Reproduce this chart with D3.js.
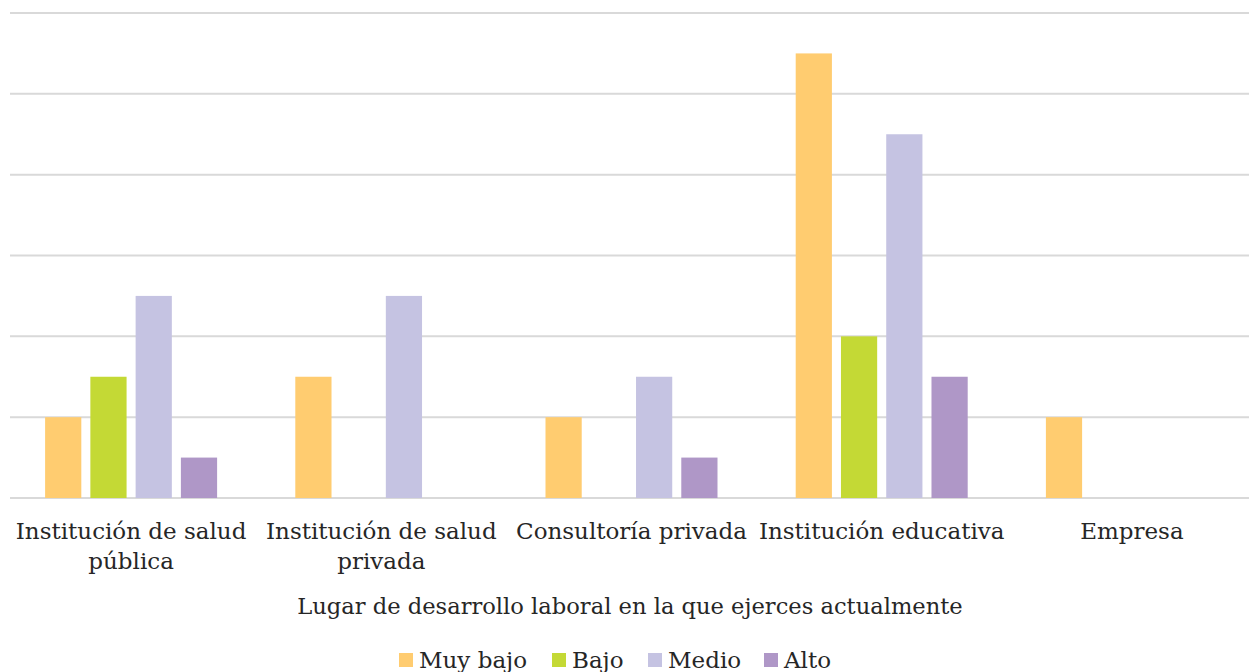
<!DOCTYPE html>
<html><head><meta charset="utf-8">
<script src="https://cdn.jsdelivr.net/npm/d3@7"></script>
<style>body{margin:0;background:#fff}svg{display:block}</style>
</head><body>
<script>
const categories = [["Institución de salud","pública"],["Institución de salud","privada"],["Consultoría privada"],["Institución educativa"],["Empresa"]];
const seriesNames = ["Muy bajo","Bajo","Medio","Alto"];
const muyBajo = [2,3,2,11,2];
const bajo = [3,0,0,4,0];
const medio = [5,5,3,9,0];
const alto = [1,0,1,3,0];
const yTicks = [0,2,4,6,8,10,12];
const axisTitle = "Lugar de desarrollo laboral en la que ejerces actualmente";
const colors = ["#FFCC70","#C4D935","#C5C3E2","#AF97C7"];
const series = [muyBajo,bajo,medio,alto];

const W=1249,H=672;
const font = "'DejaVu Serif', serif";
const svg = d3.select("body").append("svg").attr("width",W).attr("height",H);
const x0 = d3.scaleBand().domain(d3.range(categories.length)).range([6,1257]).paddingInner(0).paddingOuter(0);
const y = d3.scaleLinear().domain([0,12]).range([498,13]);
const groupW = 172;
const x1 = d3.scaleBand().domain(d3.range(4)).range([0,groupW]).paddingInner(0.2).paddingOuter(0);

svg.append("g").selectAll("line").data(yTicks).join("line")
  .attr("x1",10).attr("x2",W).attr("y1",d=>y(d)).attr("y2",d=>y(d))
  .attr("stroke","#d9d9d9").attr("stroke-width",2);

series.forEach((vals,si)=>{
  svg.append("g").selectAll("rect").data(vals.map((v,i)=>({v,i}))).join("rect")
    .filter(d=>d.v>0)
    .attr("x",d=>x0(d.i)+x0.bandwidth()/2-groupW/2+x1(si))
    .attr("width",x1.bandwidth())
    .attr("y",d=>y(d.v)).attr("height",d=>y(0)-y(d.v))
    .attr("fill",colors[si]);
});

const lab = svg.append("g").attr("font-family",font).attr("font-size",23).attr("fill","#262626").attr("text-anchor","middle");
categories.forEach((lines,i)=>{
  const t = lab.append("text").attr("x",x0(i)+x0.bandwidth()/2).attr("y",539);
  lines.forEach((l,j)=>t.append("tspan").attr("x",x0(i)+x0.bandwidth()/2).attr("dy",j?30:0).text(l));
});
svg.append("text").attr("x",630).attr("y",614).attr("text-anchor","middle").attr("font-family",font).attr("font-size",22.6).attr("fill","#262626").text(axisTitle);

const legX=[399,552,648,764];
const leg = svg.append("g").attr("font-family",font).attr("font-size",23).attr("fill","#262626");
seriesNames.forEach((n,i)=>{
  leg.append("rect").attr("x",legX[i]).attr("y",653).attr("width",14).attr("height",14).attr("fill",colors[i]);
  leg.append("text").attr("x",legX[i]+20).attr("y",668).text(n);
});
</script>
</body></html>
